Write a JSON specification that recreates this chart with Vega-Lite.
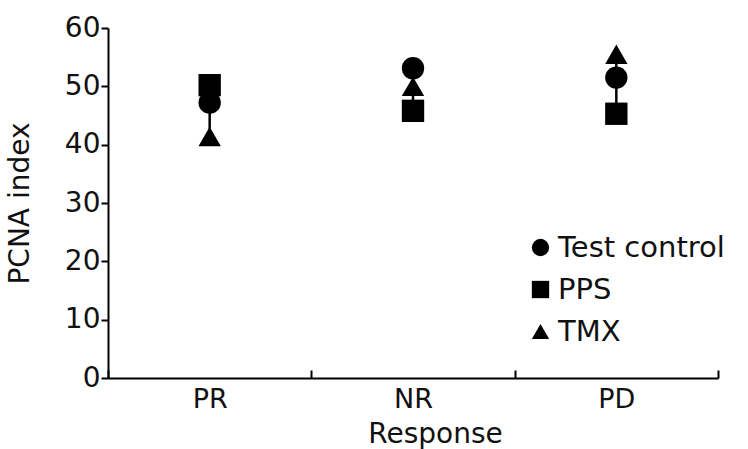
{
  "$schema": "https://vega.github.io/schema/vega-lite/v6.json",
  "width": 610,
  "height": 350,
  "autosize": {"type": "none"},
  "padding": {"left": 108, "top": 28, "right": 30, "bottom": 71},
  "background": "white",
  "config": {
    "view": {"stroke": null},
    "font": "DejaVu Sans",
    "axis": {
      "grid": false,
      "domainColor": "black",
      "domainWidth": 2,
      "tickColor": "black",
      "tickWidth": 2,
      "labelColor": "#111111",
      "titleColor": "#111111",
      "labelFontSize": 28,
      "titleFontSize": 28,
      "titleFontWeight": "normal"
    }
  },
  "data": {
    "values": [
      {"response": "PR", "group": "Test control", "pcna": 47.2},
      {"response": "PR", "group": "PPS", "pcna": 50.2},
      {"response": "PR", "group": "TMX", "pcna": 41.4},
      {"response": "NR", "group": "Test control", "pcna": 53.1},
      {"response": "NR", "group": "PPS", "pcna": 45.8},
      {"response": "NR", "group": "TMX", "pcna": 50.0},
      {"response": "PD", "group": "Test control", "pcna": 51.5},
      {"response": "PD", "group": "PPS", "pcna": 45.3},
      {"response": "PD", "group": "TMX", "pcna": 55.5}
    ]
  },
  "encoding": {
    "x": {
      "field": "response",
      "type": "nominal",
      "sort": ["PR", "NR", "PD"],
      "scale": {"paddingInner": 0, "paddingOuter": 0},
      "axis": {
        "title": "Response",
        "labelAngle": 0,
        "labelFontSize": 27,
        "tickBand": "extent",
        "tickSize": -8,
        "labelPadding": 16,
        "titlePadding": 8,
        "titleX": 327
      }
    }
  },
  "layer": [
    {
      "mark": {"type": "rule", "color": "black", "strokeWidth": 2.5},
      "encoding": {
        "y": {"aggregate": "min", "field": "pcna", "type": "quantitative"},
        "y2": {"aggregate": "max", "field": "pcna"}
      }
    },
    {
      "mark": {"type": "point", "filled": true, "opacity": 1, "color": "black", "size": 500},
      "encoding": {
        "y": {
          "field": "pcna",
          "type": "quantitative",
          "scale": {"domain": [0, 60]},
          "axis": {
            "title": "PCNA index",
            "values": [0, 10, 20, 30, 40, 50, 60],
            "tickSize": 7,
            "labelPadding": 1,
            "titlePadding": 30
          }
        },
        "shape": {
          "field": "group",
          "type": "nominal",
          "sort": ["Test control", "PPS", "TMX"],
          "scale": {"domain": ["Test control", "PPS", "TMX"], "range": ["circle", "square", "triangle-up"]},
          "legend": {
            "title": null,
            "orient": "none",
            "legendX": 418,
            "legendY": 205,
            "labelFontSize": 29,
            "labelLimit": 400,
            "labelColor": "#111111",
            "symbolSize": 300,
            "symbolFillColor": "black",
            "symbolStrokeColor": "black",
            "rowPadding": 12,
            "labelOffset": 3
          }
        }
      }
    }
  ]
}
